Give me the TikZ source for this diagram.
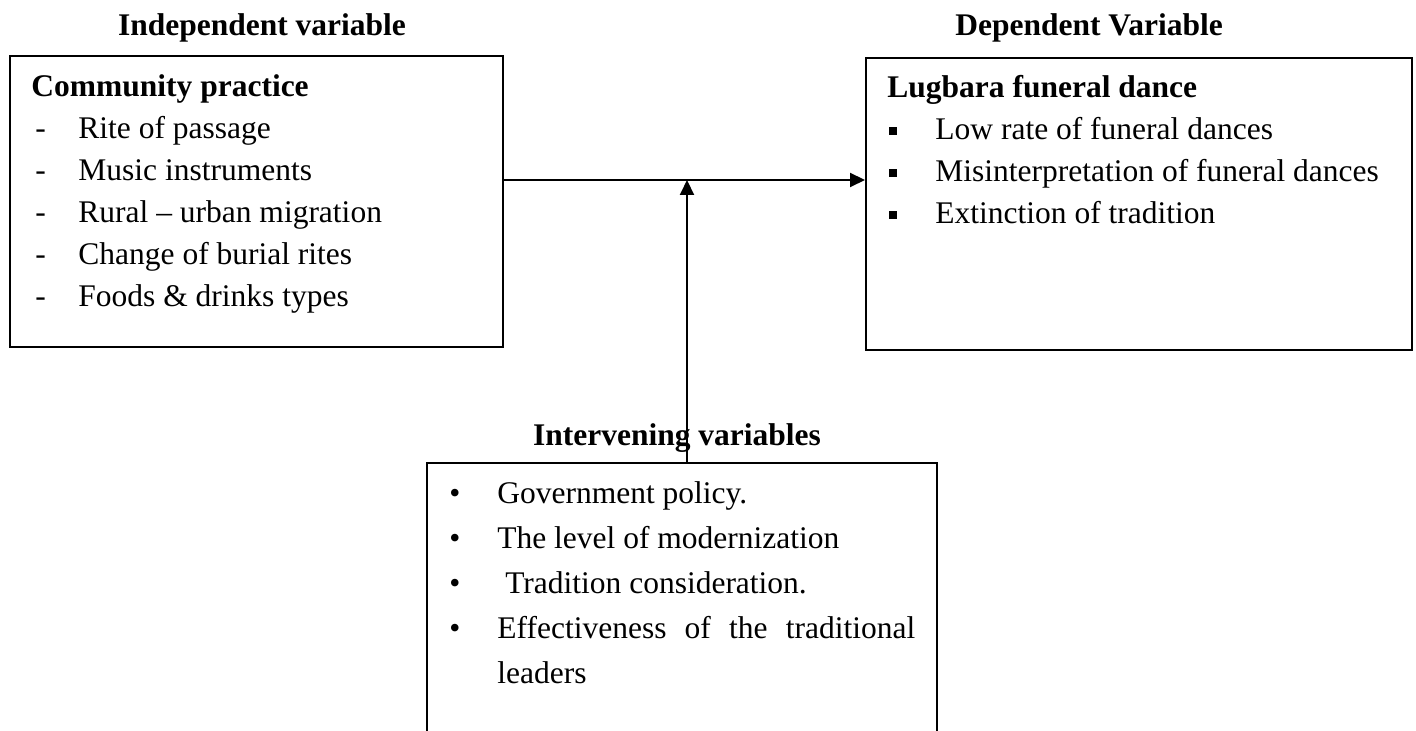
\documentclass[tikz,border=0pt]{standalone}
\usepackage{fontspec}
\setmainfont{Liberation Serif}
\usetikzlibrary{arrows.meta}
\newcommand{\sqbullet}{\hspace{1pt}\raisebox{2.5pt}{\rule{4pt}{4pt}}}
\begin{document}
\begin{tikzpicture}[x=0.5pt,y=-0.5pt,
  every node/.style={font=\fontsize{15.75}{21}\selectfont},
  varbox/.style={rectangle,draw=black,line width=1pt,inner sep=0pt},
  heading/.style={anchor=base,font=\fontsize{15.75}{21}\selectfont\bfseries},
  itemlist/.style={anchor=base west,inner sep=0pt},
  link/.style={-{Triangle[length=7.5pt,width=7pt]},line width=1pt}]
\useasboundingbox (0,0) rectangle (1416,731);
\clip (0,0) rectangle (1416,731);

\node[heading] (indephead) at (262,36) {Independent variable};
\node[varbox,minimum width=246.5pt,minimum height=145.5pt] (indep) at (256.5,201.5) {};
\node[itemlist] (indeplist) at (31,97) {\begin{tabular}[t]{@{}p{23.5pt}@{}l@{}}
\multicolumn{2}{@{}l@{}}{\textbf{Community practice}}\\
\hspace{2pt}-&Rite of passage\\
\hspace{2pt}-&Music instruments\\
\hspace{2pt}-&Rural -- urban migration\\
\hspace{2pt}-&Change of burial rites\\
\hspace{2pt}-&Foods \& drinks types
\end{tabular}};

\node[heading] (dephead) at (1089,36) {Dependent Variable};
\node[varbox,minimum width=273pt,minimum height=146pt] (dep) at (1139,204) {};
\node[itemlist] (deplist) at (887,98) {\begin{tabular}[t]{@{}p{24pt}@{}l@{}}
\multicolumn{2}{@{}l@{}}{\textbf{Lugbara funeral dance}}\\
\sqbullet&Low rate of funeral dances\\
\sqbullet&Misinterpretation of funeral dances\\
\sqbullet&Extinction of tradition
\end{tabular}};

\node[heading] (intervhead) at (677,445) {Intervening variables};
\node[varbox,minimum width=255pt,minimum height=150pt] (interv) at (682,613) {};
\node[itemlist,font=\fontsize{15.75}{22.5}\selectfont] (intervlist) at (449,503) {\begin{tabular}[t]{@{}p{24pt}@{}l@{}}
•&Government policy.\\
•&The level of modernization\\
•&\ Tradition consideration.\\
•&\makebox[209pt][s]{Effectiveness of the traditional}\\
&leaders
\end{tabular}};

\coordinate (join) at (687,180);
\draw[link] (indep.east |- join) -- (dep.west |- join);
\draw[link] (interv.north -| join) -- (join);
\end{tikzpicture}
\end{document}
